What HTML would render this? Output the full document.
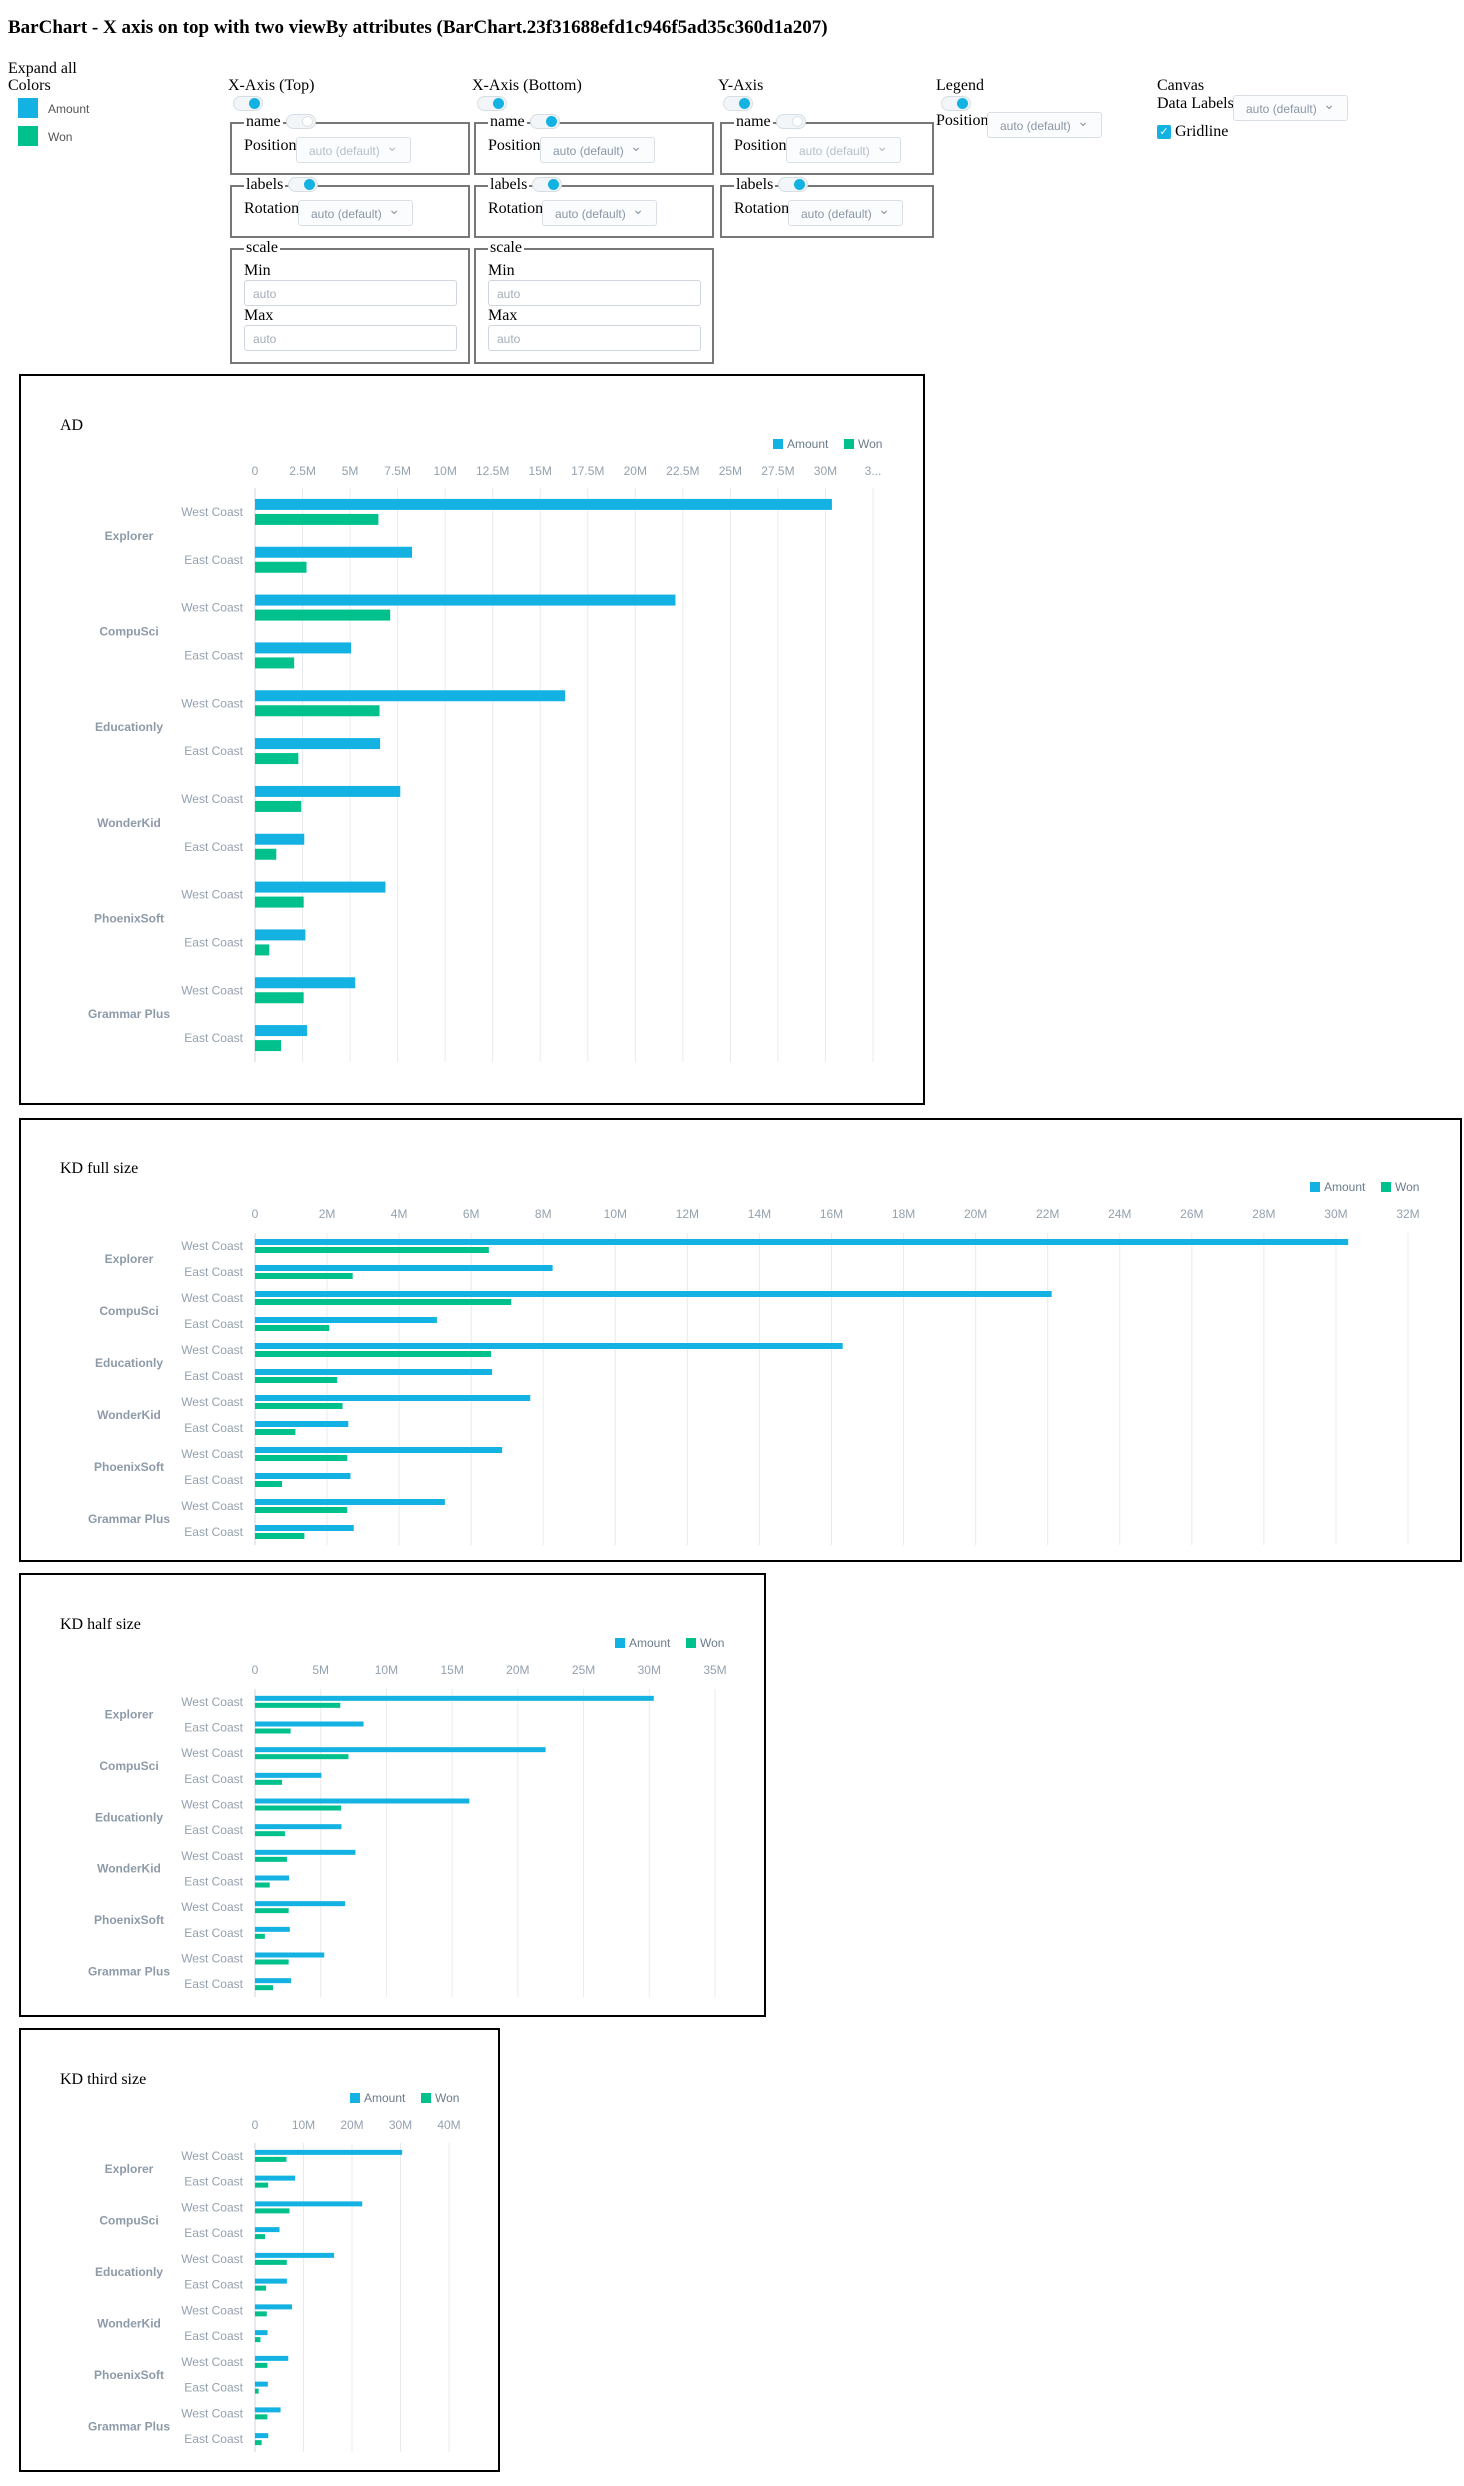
<!DOCTYPE html>
<html><head><meta charset="utf-8">
<style>
body{margin:0;width:1464px;height:2486px;position:relative;background:#fff;font-family:"Liberation Serif",serif;color:#000;overflow:hidden}
.abs{position:absolute}
.t16{font-size:16px;line-height:18px}
.tog{position:absolute;width:28px;height:13px;border:1px solid #d5dde5;border-radius:8px;background:#f3f6f8}
.tog::after{content:"";position:absolute;top:1px;right:2px;width:11px;height:11px;border-radius:50%;background:#14b2e2}
.tog.off::after{background:#fff;border:1px solid #dde3e8;width:9px;height:9px}
.fs{position:absolute;border:2px solid #777;border-top-width:2px;box-sizing:border-box}
.lg{position:absolute;top:-11px;left:12px;background:#fff;padding:0 2px;font-size:16px;line-height:18px}
.sel{position:absolute;height:26px;border:1px solid #d9dfe5;border-radius:3px;box-sizing:border-box;font-family:"Liberation Sans",sans-serif;font-size:12px;color:#8a97a6;padding:6px 0 0 12px;background:#fbfcfd}
.sel.dis{color:#b5c0ca}
.sel::after{content:"⌄";position:absolute;right:12px;top:0px;font-size:14px}
.inp{position:absolute;height:26px;border:1px solid #cfd6dd;border-radius:3px;box-sizing:border-box;font-family:"Liberation Sans",sans-serif;font-size:12px;color:#a3adb8;padding:6px 0 0 8px}
.box{position:absolute;border:2px solid #000;box-sizing:border-box}
svg text{font-family:"Liberation Sans",sans-serif}
</style></head><body>
<div class="abs" style="left:8px;top:17px;font-size:19px;font-weight:bold">BarChart - X axis on top with two viewBy attributes (BarChart.23f31688efd1c946f5ad35c360d1a207)</div>
<div class="abs t16" style="left:8px;top:60px">Expand all</div>
<div class="abs t16" style="left:8px;top:77px">Colors</div>
<div class="abs" style="left:18px;top:98px;width:20px;height:20px;background:#14b2e2"></div>
<div class="abs" style="left:48px;top:102px;font:12px 'Liberation Sans',sans-serif;color:#555">Amount</div>
<div class="abs" style="left:18px;top:126px;width:20px;height:20px;background:#00c18c"></div>
<div class="abs" style="left:48px;top:130px;font:12px 'Liberation Sans',sans-serif;color:#555">Won</div>

<div class="abs t16" style="left:228px;top:77px">X-Axis (Top)</div>
<div class="tog" style="left:233px;top:96px"></div>
<div class="fs" style="left:230px;top:122px;width:240px;height:53px"><span class="lg">name</span></div>
<div class="tog off" style="left:286px;top:114px"></div>
<div class="abs t16" style="left:244px;top:137px">Position</div>
<div class="sel dis" style="left:296px;top:137px;width:115px">auto (default)</div>
<div class="fs" style="left:230px;top:185px;width:240px;height:53px"><span class="lg">labels</span></div>
<div class="tog" style="left:288px;top:177px"></div>
<div class="abs t16" style="left:244px;top:200px">Rotation</div>
<div class="sel" style="left:298px;top:200px;width:115px">auto (default)</div>
<div class="fs" style="left:230px;top:248px;width:240px;height:116px"><span class="lg">scale</span></div>
<div class="abs t16" style="left:244px;top:262px">Min</div>
<div class="inp" style="left:244px;top:280px;width:213px">auto</div>
<div class="abs t16" style="left:244px;top:307px">Max</div>
<div class="inp" style="left:244px;top:325px;width:213px">auto</div>

<div class="abs t16" style="left:472px;top:77px">X-Axis (Bottom)</div>
<div class="tog" style="left:477px;top:96px"></div>
<div class="fs" style="left:474px;top:122px;width:240px;height:53px"><span class="lg">name</span></div>
<div class="tog" style="left:530px;top:114px"></div>
<div class="abs t16" style="left:488px;top:137px">Position</div>
<div class="sel" style="left:540px;top:137px;width:115px">auto (default)</div>
<div class="fs" style="left:474px;top:185px;width:240px;height:53px"><span class="lg">labels</span></div>
<div class="tog" style="left:532px;top:177px"></div>
<div class="abs t16" style="left:488px;top:200px">Rotation</div>
<div class="sel" style="left:542px;top:200px;width:115px">auto (default)</div>
<div class="fs" style="left:474px;top:248px;width:240px;height:116px"><span class="lg">scale</span></div>
<div class="abs t16" style="left:488px;top:262px">Min</div>
<div class="inp" style="left:488px;top:280px;width:213px">auto</div>
<div class="abs t16" style="left:488px;top:307px">Max</div>
<div class="inp" style="left:488px;top:325px;width:213px">auto</div>

<div class="abs t16" style="left:718px;top:77px">Y-Axis</div>
<div class="tog" style="left:723px;top:96px"></div>
<div class="fs" style="left:720px;top:122px;width:214px;height:53px"><span class="lg">name</span></div>
<div class="tog off" style="left:776px;top:114px"></div>
<div class="abs t16" style="left:734px;top:137px">Position</div>
<div class="sel dis" style="left:786px;top:137px;width:115px">auto (default)</div>
<div class="fs" style="left:720px;top:185px;width:214px;height:53px"><span class="lg">labels</span></div>
<div class="tog" style="left:778px;top:177px"></div>
<div class="abs t16" style="left:734px;top:200px">Rotation</div>
<div class="sel" style="left:788px;top:200px;width:115px">auto (default)</div>

<div class="abs t16" style="left:936px;top:77px">Legend</div>
<div class="tog" style="left:941px;top:96px"></div>
<div class="abs t16" style="left:936px;top:112px">Position</div>
<div class="sel" style="left:987px;top:112px;width:115px">auto (default)</div>

<div class="abs t16" style="left:1157px;top:77px">Canvas</div>
<div class="abs t16" style="left:1157px;top:95px">Data Labels</div>
<div class="sel" style="left:1233px;top:95px;width:115px">auto (default)</div>
<div class="abs" style="left:1157px;top:125px;width:14px;height:14px;background:#14b2e2;border-radius:2px;color:#fff;font:11px 'DejaVu Sans',sans-serif;text-align:center;line-height:14px">✓</div>
<div class="abs t16" style="left:1175px;top:123px">Gridline</div>

<div class="box" style="left:19px;top:374px;width:906px;height:731px"></div>
<div class="box" style="left:19px;top:1118px;width:1443px;height:444px"></div>
<div class="box" style="left:19px;top:1573px;width:747px;height:444px"></div>
<div class="box" style="left:19px;top:2028px;width:481px;height:444px"></div>

<svg id="charts" class="abs" style="left:0;top:0" width="1464" height="2486"></svg>

<script>
const groups = ["Explorer","CompuSci","Educationly","WonderKid","PhoenixSoft","Grammar Plus"];
const regions = ["West Coast","East Coast"];
const amountValues = [30.34, 8.26, 22.11, 5.05, 16.31, 6.58, 7.64, 2.59, 6.86, 2.65, 5.27, 2.74];
const wonValues = [6.49, 2.71, 7.11, 2.06, 6.55, 2.28, 2.43, 1.12, 2.56, 0.75, 2.56, 1.37];
const adTicks = ["0","2.5M","5M","7.5M","10M","12.5M","15M","17.5M","20M","22.5M","25M","27.5M","30M","3..."];
const adTickValues = [0,2.5,5,7.5,10,12.5,15,17.5,20,22.5,25,27.5,30,32.5];
const fullTicks = ["0","2M","4M","6M","8M","10M","12M","14M","16M","18M","20M","22M","24M","26M","28M","30M","32M"];
const fullTickValues = [0,2,4,6,8,10,12,14,16,18,20,22,24,26,28,30,32];
const halfTicks = ["0","5M","10M","15M","20M","25M","30M","35M"];
const halfTickValues = [0,5,10,15,20,25,30,35];
const thirdTicks = ["0","10M","20M","30M","40M"];
const thirdTickValues = [0,10,20,30,40];
const seriesNames = ["Amount","Won"];
const seriesColors = ["#14b2e2","#00c18c"];

const NS="http://www.w3.org/2000/svg";
const svg=document.getElementById('charts');
function mk(tag,attrs,parent){const e=document.createElementNS(NS,tag);for(const k in attrs)e.setAttribute(k,attrs[k]);(parent||svg).appendChild(e);return e;}

function drawChart(cfg){
  const g=mk('g',{});
  
  
  const x=v=>cfg.x0+v/cfg.max*(cfg.x1-cfg.x0);
  const t=mk('text',{x:cfg.titleX,y:cfg.titleY,'font-size':16,fill:'#000','style':'font-family:"Liberation Serif",serif'},g);
  t.textContent=cfg.title;
  
  
  seriesNames.forEach((s,i)=>{
    const lx=cfg.legX+i*cfg.legGap;
    const r=mk('rect',{x:lx,y:cfg.legY-9,width:10,height:10,fill:seriesColors[i]},g);
    
    
    const lt=mk('text',{x:lx+14,y:cfg.legY,'font-size':12,fill:'#6b7b8b'},g);
    lt.textContent=s;
    
    
  });
  cfg.tickValues.forEach((v,i)=>{
    const gx=x(v);
    const l=mk('line',{x1:gx,x2:gx,y1:cfg.y0,y2:cfg.y1,stroke:i===0?'#cdd6df':'#e8ebee','stroke-width':1},g);
    
    
    const tx=mk('text',{x:gx,y:cfg.tickY,'font-size':12,fill:'#94a1ae','text-anchor':'middle'},g);
    tx.textContent=cfg.ticks[i];
    
    
  });
  const n=amountValues.length;
  const band=(cfg.y1-cfg.y0)/n;
  for(let r=0;r<n;r++){
    const cy=cfg.y0+band*(r+0.5);
    const rl=mk('text',{x:cfg.x0-12,y:cy+4,'font-size':12,fill:'#94a1ae','text-anchor':'end'},g);
    rl.textContent=regions[r%2];
    
    
    const a=mk('rect',{x:cfg.x0,y:cy-cfg.gap-cfg.bh,width:x(amountValues[r])-cfg.x0,height:cfg.bh,fill:seriesColors[0]},g);
    
    
    const w=mk('rect',{x:cfg.x0,y:cy+cfg.gap,width:x(wonValues[r])-cfg.x0,height:cfg.bh,fill:seriesColors[1]},g);
    
    
  }
  groups.forEach((gname,i)=>{
    const cy=cfg.y0+band*(2*i+1);
    const gl=mk('text',{x:129,y:cy+4,'font-size':12,'font-weight':'bold',fill:'#8d9aa8','text-anchor':'middle'},g);
    gl.textContent=gname;
    
    
  });
}

drawChart({id:'chart-ad',title:'AD',titleX:60,titleY:430,legX:773,legGap:71,legY:448,tickY:475,x0:255,x1:873,max:32.5,y0:488,y1:1062,bh:11,gap:2,ticks:adTicks,tickValues:adTickValues});
drawChart({id:'chart-kd-full',title:'KD full size',titleX:60,titleY:1173,legX:1310,legGap:71,legY:1191,tickY:1218,x0:255,x1:1408,max:32,y0:1233,y1:1545,bh:6,gap:1,ticks:fullTicks,tickValues:fullTickValues});
drawChart({id:'chart-kd-half',title:'KD half size',titleX:60,titleY:1629,legX:615,legGap:71,legY:1647,tickY:1674,x0:255,x1:715,max:35,y0:1689,y1:1997,bh:5,gap:1,ticks:halfTicks,tickValues:halfTickValues});
drawChart({id:'chart-kd-third',title:'KD third size',titleX:60,titleY:2084,legX:350,legGap:71,legY:2102,tickY:2129,x0:255,x1:449,max:40,y0:2143,y1:2452,bh:5,gap:1,ticks:thirdTicks,tickValues:thirdTickValues});
</script>
</body></html>
